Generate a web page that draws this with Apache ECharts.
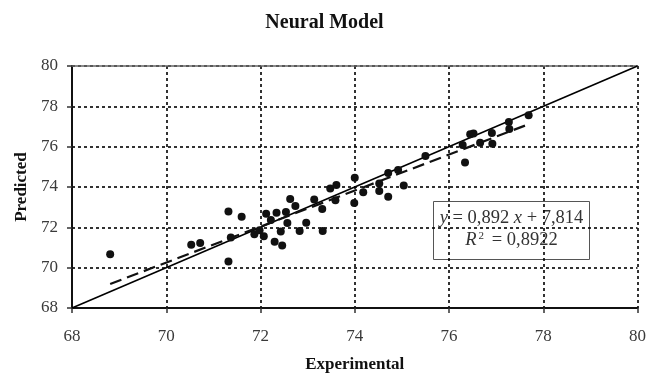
<!DOCTYPE html>
<html>
<head>
<meta charset="utf-8">
<title>Neural Model</title>
<script src="https://cdn.jsdelivr.net/npm/echarts@6/dist/echarts.min.js"></script>
<style>
  html, body { margin: 0; padding: 0; background: #fff; }
  #chart { width: 649px; height: 378px; }
</style>
</head>
<body>
<div id="chart"></div>
<script>
// Experimental vs. predicted values of the neural model
const experimental = [
  68.81, 70.53, 70.72, 71.32, 71.60, 71.32, 71.37, 71.87, 71.98, 72.07,
  72.12, 72.22, 72.34, 72.30, 72.46, 72.43, 72.54, 72.57, 72.63, 72.74,
  72.83, 72.97, 73.14, 73.31, 73.32, 73.48, 73.61, 73.59, 74.00, 73.99,
  74.18, 74.52, 74.52, 74.71, 74.71, 74.92, 75.04, 75.50, 76.34, 76.29,
  76.45, 76.52, 76.66, 76.91, 76.92, 77.27, 77.28, 77.69
];
const predicted = [
  70.66, 71.14, 71.22, 72.79, 72.52, 70.31, 71.49, 71.66, 71.86, 71.56,
  72.67, 72.36, 72.72, 71.29, 71.10, 71.79, 72.76, 72.21, 73.41, 73.06,
  71.82, 72.23, 73.38, 72.91, 71.82, 73.93, 74.10, 73.34, 74.46, 73.21,
  73.74, 73.80, 74.17, 73.52, 74.70, 74.84, 74.07, 75.54, 75.22, 76.08,
  76.62, 76.65, 76.20, 76.68, 76.15, 77.22, 76.88, 77.56
];

// Linear fit reported on the chart
const fitSlope = 0.892;
const fitIntercept = 7.814;
const fitR2 = 0.8922;

// Axis settings
const axisMin = 68;
const axisMax = 80;
const axisStep = 2;

const points = experimental.map((x, i) => [x, predicted[i]]);
const xLo = Math.min(...experimental);
const xHi = Math.max(...experimental);
const fitLine = [[xLo, fitSlope * xLo + fitIntercept], [xHi, fitSlope * xHi + fitIntercept]];
const identityLine = [[axisMin, axisMin], [axisMax, axisMax]];

const fmt = v => String(v).replace('.', ',');
const serif = '"Liberation Serif", "DejaVu Serif", serif';

const chart = echarts.init(document.getElementById('chart'), null, { renderer: 'canvas' });

const gridLine = { show: true, lineStyle: { color: '#000', width: 1.6, type: [3, 3] } };

chart.setOption({
  animation: false,
  backgroundColor: '#fff',
  title: {
    text: 'Neural Model',
    left: 'center',
    top: 8,
    textStyle: { fontFamily: serif, fontWeight: 'bold', fontSize: 20, color: '#111' }
  },
  grid: { left: 72, right: 11, top: 66, bottom: 66, containLabel: false },
  xAxis: [{
    type: 'value',
    min: axisMin, max: axisMax, interval: axisStep,
    name: 'Experimental',
    nameLocation: 'middle',
    nameGap: 48,
    nameTextStyle: { fontFamily: serif, fontWeight: 'bold', fontSize: 17, color: '#111' },
    axisLine: { show: true, onZero: false, lineStyle: { color: '#111', width: 2 } },
    axisTick: { show: true, inside: false, length: 5, lineStyle: { color: '#333', width: 1.5 } },
    axisLabel: { margin: 20, fontFamily: serif, fontSize: 17, color: '#3a3a3a' },
    splitLine: gridLine
  }, {
    type: 'value',
    position: 'top',
    min: axisMin, max: axisMax, interval: axisStep,
    axisLine: { show: true, onZero: false, lineStyle: { color: '#666', width: 1.5 } },
    axisTick: { show: false },
    axisLabel: { show: false },
    splitLine: { show: false }
  }],
  yAxis: {
    type: 'value',
    min: axisMin, max: axisMax, interval: axisStep,
    name: 'Predicted',
    nameLocation: 'middle',
    nameGap: 41,
    nameRotate: 90,
    nameTextStyle: { fontFamily: serif, fontWeight: 'bold', fontSize: 17, color: '#111' },
    axisLine: { show: true, onZero: false, lineStyle: { color: '#111', width: 2 } },
    axisTick: { show: true, inside: false, length: 5, lineStyle: { color: '#333', width: 1.5 } },
    axisLabel: { margin: 14, fontFamily: serif, fontSize: 17, color: '#3a3a3a' },
    splitLine: gridLine
  },
  series: [
    {
      name: 'Identity',
      type: 'line',
      data: identityLine,
      showSymbol: false,
      lineStyle: { color: '#000', width: 1.6 },
      z: 3
    },
    {
      name: 'Fit',
      type: 'line',
      data: fitLine,
      showSymbol: false,
      lineStyle: { color: '#111', width: 2.2, type: [12, 6] },
      z: 4
    },
    {
      name: 'Data',
      type: 'scatter',
      data: points,
      symbol: 'circle',
      symbolSize: 8,
      itemStyle: { color: '#111', opacity: 1 },
      z: 5
    }
  ],
  graphic: [{
    type: 'group',
    left: 433,
    top: 201,
    children: [{
      type: 'rect',
      shape: { x: 0, y: 0, width: 156, height: 58 },
      style: { fill: '#fff', stroke: '#555', lineWidth: 1 }
    }, {
      type: 'text',
      x: 78, y: 17,
      style: {
        text: '{i|y} = ' + fmt(fitSlope) + ' {i|x} + ' + fmt(fitIntercept),
        align: 'center', verticalAlign: 'middle',
        fontFamily: serif, fontSize: 18.5, fill: '#333',
        rich: { i: { fontFamily: serif, fontStyle: 'italic', fontSize: 18.5, fill: '#333' } }
      }
    }, {
      type: 'text',
      x: 78, y: 39,
      style: {
        text: '{i|R}{s|2} = ' + fmt(fitR2),
        align: 'center', verticalAlign: 'middle',
        fontFamily: serif, fontSize: 18.5, fill: '#333',
        rich: {
          i: { fontFamily: serif, fontStyle: 'italic', fontSize: 18.5, fill: '#333' },
          s: { fontFamily: serif, fontSize: 11, fill: '#333', verticalAlign: 'top', padding: [0, 3, 8, 2] }
        }
      }
    }]
  }]
});
</script>
</body>
</html>
